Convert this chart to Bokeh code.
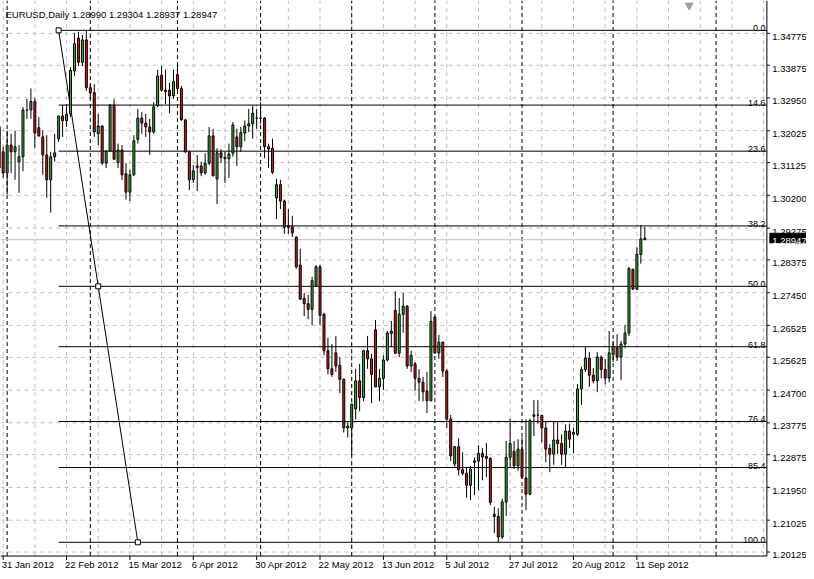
from bokeh.plotting import figure
from bokeh.models import Range1d, ColumnDataSource
from bokeh.embed import file_html
from bokeh.resources import INLINE
from bokeh.core.properties import value

SYMBOL = "EURUSD,Daily"
LAST_BAR_OHLC = [1.28990, 1.29304, 1.28937, 1.28947]
FIRST_BAR = -1   # bar index of first candle (bar 0 = 31 Jan 2012)

OPEN = [1.3214, 1.3143, 1.3083, 1.3162, 1.3143, 1.3115, 1.3129, 1.3261, 1.3261, 1.3285,
        1.3211, 1.3185, 1.3134, 1.3064, 1.3129, 1.3180, 1.3244, 1.3231, 1.3250, 1.3371,
        1.3464, 1.3396, 1.3459, 1.3324, 1.3310, 1.3194, 1.3216, 1.3111, 1.3145, 1.3275,
        1.3113, 1.3148, 1.3081, 1.3029, 1.3078, 1.3178, 1.3238, 1.3224, 1.3213, 1.3199,
        1.3273, 1.3359, 1.3317, 1.3317, 1.3301, 1.3361, 1.3322, 1.3233, 1.3143, 1.3064,
        1.3103, 1.3103, 1.3083, 1.3111, 1.3188, 1.3066, 1.3140, 1.3127, 1.3123, 1.3139,
        1.3185, 1.3157, 1.3196, 1.3216, 1.3222, 1.3238, 1.3238, 1.3238, 1.3157, 1.3153,
        1.3013, 1.3050, 1.3004, 1.2934, 1.2931, 1.2902, 1.2823, 1.2729, 1.2714, 1.2698,
        1.2764, 1.2818, 1.2684, 1.2581, 1.2530, 1.2575, 1.2540, 1.2500, 1.2363, 1.2363,
        1.2417, 1.2496, 1.2449, 1.2581, 1.2558, 1.2640, 1.2479, 1.2503, 1.2555, 1.2630,
        1.2695, 1.2574, 1.2684, 1.2707, 1.2538, 1.2544, 1.2503, 1.2492, 1.2467, 1.2440,
        1.2676, 1.2575, 1.2605, 1.2524, 1.2388, 1.2261, 1.2310, 1.2245, 1.2235, 1.2201,
        1.2266, 1.2269, 1.2291, 1.2283, 1.2277, 1.2119, 1.2113, 1.2055, 1.2154, 1.2280,
        1.2297, 1.2256, 1.2303, 1.2222, 1.2176, 1.2396, 1.2399, 1.2398, 1.2363, 1.2305,
        1.2289, 1.2329, 1.2319, 1.2289, 1.2354, 1.2350, 1.2345, 1.2473, 1.2528, 1.2560,
        1.2512, 1.2496, 1.2563, 1.2528, 1.2504, 1.2570, 1.2593, 1.2563, 1.2600, 1.2631,
        1.2811, 1.2755, 1.2853, 1.28990]
HIGH = [1.3219, 1.3158, 1.3203, 1.3194, 1.3203, 1.3162, 1.3269, 1.3292, 1.3322, 1.3294,
        1.3241, 1.3203, 1.3190, 1.3143, 1.3194, 1.3245, 1.3275, 1.3278, 1.3382, 1.3478,
        1.3482, 1.3473, 1.3485, 1.3334, 1.3334, 1.3250, 1.3217, 1.3148, 1.3278, 1.3292,
        1.3166, 1.3162, 1.3111, 1.3092, 1.3190, 1.3264, 1.3255, 1.3250, 1.3236, 1.3283,
        1.3375, 1.3385, 1.3375, 1.3338, 1.3375, 1.3389, 1.3329, 1.3236, 1.3146, 1.3106,
        1.3134, 1.3115, 1.3139, 1.3213, 1.3208, 1.3153, 1.3150, 1.3143, 1.3166, 1.3227,
        1.3208, 1.3213, 1.3231, 1.3264, 1.3273, 1.3264, 1.3283, 1.3241, 1.3166, 1.3180,
        1.3067, 1.3064, 1.3008, 1.2981, 1.2962, 1.2904, 1.2869, 1.2744, 1.2739, 1.2790,
        1.2823, 1.2823, 1.2688, 1.2618, 1.2600, 1.2623, 1.2563, 1.2503, 1.2382, 1.2431,
        1.2530, 1.2544, 1.2584, 1.2623, 1.2572, 1.2668, 1.2530, 1.2568, 1.2637, 1.2665,
        1.2749, 1.2730, 1.2744, 1.2710, 1.2581, 1.2549, 1.2529, 1.2507, 1.2521, 1.2693,
        1.2679, 1.2626, 1.2607, 1.2529, 1.2400, 1.2312, 1.2334, 1.2294, 1.2252, 1.2256,
        1.2280, 1.2314, 1.2306, 1.2320, 1.2280, 1.2141, 1.2136, 1.2163, 1.2326, 1.2389,
        1.2326, 1.2331, 1.2336, 1.2387, 1.2389, 1.2442, 1.2442, 1.2400, 1.2382, 1.2317,
        1.2382, 1.2382, 1.2345, 1.2373, 1.2375, 1.2363, 1.2487, 1.2535, 1.2591, 1.2577,
        1.2532, 1.2577, 1.2568, 1.2558, 1.2637, 1.2609, 1.2628, 1.2609, 1.2653, 1.2818,
        1.2813, 1.2874, 1.2936, 1.29304]
LOW = [1.3041, 1.3069, 1.3022, 1.3083, 1.3064, 1.3027, 1.3088, 1.3236, 1.3236, 1.3153,
       1.3185, 1.3078, 1.3013, 1.2971, 1.3115, 1.3171, 1.3185, 1.3213, 1.3241, 1.3357,
       1.3385, 1.3385, 1.3315, 1.3292, 1.3185, 1.3162, 1.3106, 1.3097, 1.3144, 1.3120,
       1.3097, 1.3064, 1.3008, 1.3004, 1.3074, 1.3166, 1.3194, 1.3185, 1.3134, 1.3194,
       1.3269, 1.3313, 1.3278, 1.3252, 1.3292, 1.3315, 1.3231, 1.3139, 1.3035, 1.3055,
       1.3032, 1.3074, 1.3078, 1.3106, 1.3074, 1.2995, 1.3111, 1.3055, 1.3069, 1.3129,
       1.3103, 1.3143, 1.3173, 1.3199, 1.3180, 1.3208, 1.3222, 1.3125, 1.3097, 1.3080,
       1.2953, 1.2981, 1.2911, 1.2911, 1.2902, 1.2813, 1.2725, 1.2679, 1.2670, 1.2653,
       1.2762, 1.2653, 1.2568, 1.2514, 1.2507, 1.2521, 1.2461, 1.2350, 1.2336, 1.2284,
       1.2387, 1.2410, 1.2438, 1.2530, 1.2433, 1.2479, 1.2439, 1.2470, 1.2551, 1.2591,
       1.2572, 1.2563, 1.2632, 1.2530, 1.2521, 1.2467, 1.2439, 1.2438, 1.2405, 1.2438,
       1.2572, 1.2558, 1.2507, 1.2363, 1.2270, 1.2252, 1.2229, 1.2229, 1.2166, 1.2159,
       1.2173, 1.2187, 1.2215, 1.2224, 1.2145, 1.2066, 1.2040, 1.2049, 1.2114, 1.2252,
       1.2247, 1.2242, 1.2219, 1.2131, 1.2173, 1.2340, 1.2375, 1.2322, 1.2266, 1.2238,
       1.2259, 1.2289, 1.2259, 1.2252, 1.2306, 1.2291, 1.2340, 1.2428, 1.2521, 1.2479,
       1.2489, 1.2464, 1.2503, 1.2486, 1.2492, 1.2549, 1.2552, 1.2498, 1.2588, 1.2623,
       1.2753, 1.2753, 1.2827, 1.28937]
CLOSE = [1.3097, 1.3083, 1.3162, 1.3143, 1.3157, 1.3129, 1.3261, 1.3261, 1.3285, 1.3196,
         1.3188, 1.3134, 1.3064, 1.3129, 1.3140, 1.3244, 1.3231, 1.3249, 1.3373, 1.3448,
         1.3396, 1.3459, 1.3324, 1.3310, 1.3199, 1.3216, 1.3111, 1.3145, 1.3275, 1.3122,
         1.3148, 1.3078, 1.3029, 1.3078, 1.3174, 1.3238, 1.3224, 1.3213, 1.3199, 1.3270,
         1.3357, 1.3317, 1.3313, 1.3301, 1.3341, 1.3322, 1.3233, 1.3143, 1.3064, 1.3089,
         1.3099, 1.3083, 1.3111, 1.3188, 1.3075, 1.3140, 1.3127, 1.3123, 1.3137, 1.3219,
         1.3157, 1.3197, 1.3216, 1.3222, 1.3252, 1.3238, 1.3238, 1.3157, 1.3151, 1.3085,
         1.3050, 1.3004, 1.2930, 1.2930, 1.2914, 1.2818, 1.2727, 1.2714, 1.2698, 1.2779,
         1.2818, 1.2681, 1.2581, 1.2530, 1.2514, 1.2538, 1.2500, 1.2363, 1.2368, 1.2430,
         1.2496, 1.2449, 1.2581, 1.2558, 1.2514, 1.2479, 1.2503, 1.2555, 1.2631, 1.2636,
         1.2574, 1.2684, 1.2707, 1.2538, 1.2568, 1.2503, 1.2492, 1.2465, 1.2440, 1.2664,
         1.2575, 1.2605, 1.2524, 1.2388, 1.2284, 1.2310, 1.2245, 1.2235, 1.2201, 1.2247,
         1.2270, 1.2291, 1.2281, 1.2277, 1.2153, 1.2113, 1.2055, 1.2154, 1.2280, 1.2319,
         1.2256, 1.2303, 1.2224, 1.2176, 1.2384, 1.2400, 1.2399, 1.2363, 1.2303, 1.2289,
         1.2329, 1.2319, 1.2289, 1.2354, 1.2331, 1.2345, 1.2473, 1.2528, 1.2560, 1.2512,
         1.2496, 1.2563, 1.2528, 1.2504, 1.2575, 1.2593, 1.2563, 1.2600, 1.2631, 1.2813,
         1.2755, 1.2854, 1.2897, 1.28947]

DATE_TICKS = [0, 16, 32, 48, 64, 80, 96, 112, 128, 144, 160]
DATE_LABELS = ["31 Jan 2012", "22 Feb 2012", "15 Mar 2012", "6 Apr 2012", "30 Apr 2012",
               "22 May 2012", "13 Jun 2012", "5 Jul 2012", "27 Jul 2012", "20 Aug 2012",
               "11 Sep 2012"]
GRID_BARS = [0, 8, 16, 24, 32, 40, 48, 56, 64, 72, 80, 88, 96, 104, 112, 120, 128, 136,
             144, 152, 160, 168, 176, 184, 192]
PRICE_TICKS = [1.34775, 1.33875, 1.32950, 1.32025, 1.31125, 1.30200, 1.29275, 1.28375,
               1.27450, 1.26525, 1.25625, 1.24700, 1.23775, 1.22875, 1.21950, 1.21025, 1.20125]
MONTH_SEPARATORS = [1, 22, 44, 65, 88, 109, 131, 154, 180]

FIB_START_BAR, FIB_END_BAR = 14, 34
FIB_HIGH, FIB_LOW = 1.3486, 1.2040
FIB_LEVELS = [0.0, 14.6, 23.6, 38.2, 50.0, 61.8, 76.4, 85.4, 100.0]
LAST_PRICE = LAST_BAR_OHLC[3]
SHIFT_MARK_BAR = 173.2

# ---- layout (bars / price units of the drawing area) ----
BAR_PX = 4.0          # pixels per bar in the original terminal window
PRICE_PX = 3590.0     # pixels per price unit in the original terminal window
X_START, X_CHART_END, X_END = -0.675, 192.825, 202.825
Y_TOP, Y_CHART_BOTTOM, Y_BOTTOM = 1.35703, 1.20012, 1.19575


def dx(px):
    return px / BAR_PX


def dy(px):
    return px / PRICE_PX


FONT = value("Liberation Sans")
GREEN = "#2DB82D"
RED = "#E51212"
GRID = "#C0C0C0"

bars = list(range(FIRST_BAR, FIRST_BAR + len(OPEN)))
src = ColumnDataSource(dict(
    x=bars, high=HIGH, low=LOW,
    top=[max(o, c) for o, c in zip(OPEN, CLOSE)],
    bottom=[min(o, c) for o, c in zip(OPEN, CLOSE)],
    color=[GREEN if c >= o else RED for o, c in zip(OPEN, CLOSE)],
))

p = figure(width=806, height=571, x_range=Range1d(X_START, X_END),
           y_range=Range1d(Y_BOTTOM, Y_TOP), output_backend="svg",
           toolbar_location=None, min_border=0)
p.xaxis.visible = False
p.yaxis.visible = False
p.xgrid.visible = False
p.ygrid.visible = False
p.background_fill_color = "white"
p.border_fill_color = "white"
p.outline_line_color = None

# grid
p.segment(x0=GRID_BARS, y0=[Y_CHART_BOTTOM] * len(GRID_BARS), x1=GRID_BARS,
          y1=[Y_TOP] * len(GRID_BARS), line_color=GRID, line_dash="4 4", line_width=1)
p.segment(x0=[X_START] * len(PRICE_TICKS), y0=PRICE_TICKS, x1=[X_CHART_END] * len(PRICE_TICKS),
          y1=PRICE_TICKS, line_color=GRID, line_dash="4 4", line_width=1)

# month separators
p.segment(x0=MONTH_SEPARATORS, y0=[Y_CHART_BOTTOM] * len(MONTH_SEPARATORS),
          x1=MONTH_SEPARATORS, y1=[Y_TOP] * len(MONTH_SEPARATORS),
          line_color="black", line_dash="4 3", line_width=1)

# current price line
p.segment(x0=[X_START], y0=[LAST_PRICE], x1=[X_CHART_END], y1=[LAST_PRICE],
          line_color=GRID, line_width=1)

# fibonacci retracement
fib_prices = [FIB_HIGH - lv / 100.0 * (FIB_HIGH - FIB_LOW) for lv in FIB_LEVELS]
n = len(fib_prices)
p.segment(x0=[FIB_START_BAR] * n, y0=fib_prices, x1=[X_CHART_END] * n, y1=fib_prices,
          line_color="black", line_width=1)
p.line(x=[FIB_START_BAR, FIB_END_BAR], y=[FIB_HIGH, FIB_LOW], line_color="black", line_width=1)
p.text(x=[X_CHART_END - dx(1.5)] * n, y=[v + dy(2) for v in fib_prices],
       text=["%.1f" % lv for lv in FIB_LEVELS], text_align="right",
       text_baseline="alphabetic", text_font=FONT, text_font_size="9px", text_color="black")

# candles
p.segment(x0="x", y0="high", x1="x", y1="low", source=src, line_color="black", line_width=1)
p.vbar(x="x", width=0.5, top="top", bottom="bottom", source=src,
       fill_color="color", line_color="black", line_width=1)

# fib anchor squares
p.scatter(x=[FIB_START_BAR, (FIB_START_BAR + FIB_END_BAR) / 2, FIB_END_BAR],
          y=[FIB_HIGH, (FIB_HIGH + FIB_LOW) / 2, FIB_LOW], marker="square", size=5,
          fill_color="white", line_color="black", line_width=1)

# chart frame (right and bottom borders)
p.segment(x0=[X_CHART_END, X_START], y0=[Y_CHART_BOTTOM, Y_CHART_BOTTOM],
          x1=[X_CHART_END, X_CHART_END], y1=[Y_TOP, Y_CHART_BOTTOM],
          line_color="black", line_width=1)

# price scale (right)
m = len(PRICE_TICKS)
p.segment(x0=[X_CHART_END] * m, y0=PRICE_TICKS, x1=[X_CHART_END + dx(3)] * m, y1=PRICE_TICKS,
          line_color="black", line_width=1)
p.text(x=[X_CHART_END + dx(5.5)] * m, y=[v - dy(3.5) for v in PRICE_TICKS],
       text=["%.5f" % v for v in PRICE_TICKS], text_align="left", text_baseline="alphabetic",
       text_font=FONT, text_font_size="9.5px", text_color="black")

# current price box
p.quad(left=[X_CHART_END + dx(3)], right=[X_END], top=[LAST_PRICE + dy(6.5)],
       bottom=[LAST_PRICE - dy(3.2)], fill_color="black", line_color="black")
p.text(x=[X_CHART_END + dx(5.5)], y=[LAST_PRICE - dy(1.8)], text=["%.5f" % LAST_PRICE],
       text_align="left", text_baseline="alphabetic", text_font=FONT,
       text_font_size="9.5px", text_color="white")

# time scale (bottom)
k = len(DATE_TICKS)
p.segment(x0=DATE_TICKS, y0=[Y_CHART_BOTTOM] * k, x1=DATE_TICKS,
          y1=[Y_CHART_BOTTOM - dy(4)] * k, line_color="black", line_width=1)
p.text(x=[t - dx(1.5) for t in DATE_TICKS], y=[Y_CHART_BOTTOM - dy(8.5)] * k,
       text=DATE_LABELS, text_align="left", text_baseline="alphabetic",
       text_font=FONT, text_font_size="9.5px", text_color="black")

# chart shift marker
p.scatter(x=[SHIFT_MARK_BAR], y=[Y_TOP - dy(5)], marker="inverted_triangle", size=8,
          fill_color="#A0A0A0", line_color="#A0A0A0")

# header
header = "%s  %s" % (SYMBOL, " ".join("%.5f" % v for v in LAST_BAR_OHLC))
p.text(x=[X_START + dx(5)], y=[Y_TOP - dy(14.5)], text=[header], text_align="left",
       text_baseline="alphabetic", text_font=FONT, text_font_size="9.5px", text_color="black")

open("out.html", "w").write(file_html(p, INLINE))
